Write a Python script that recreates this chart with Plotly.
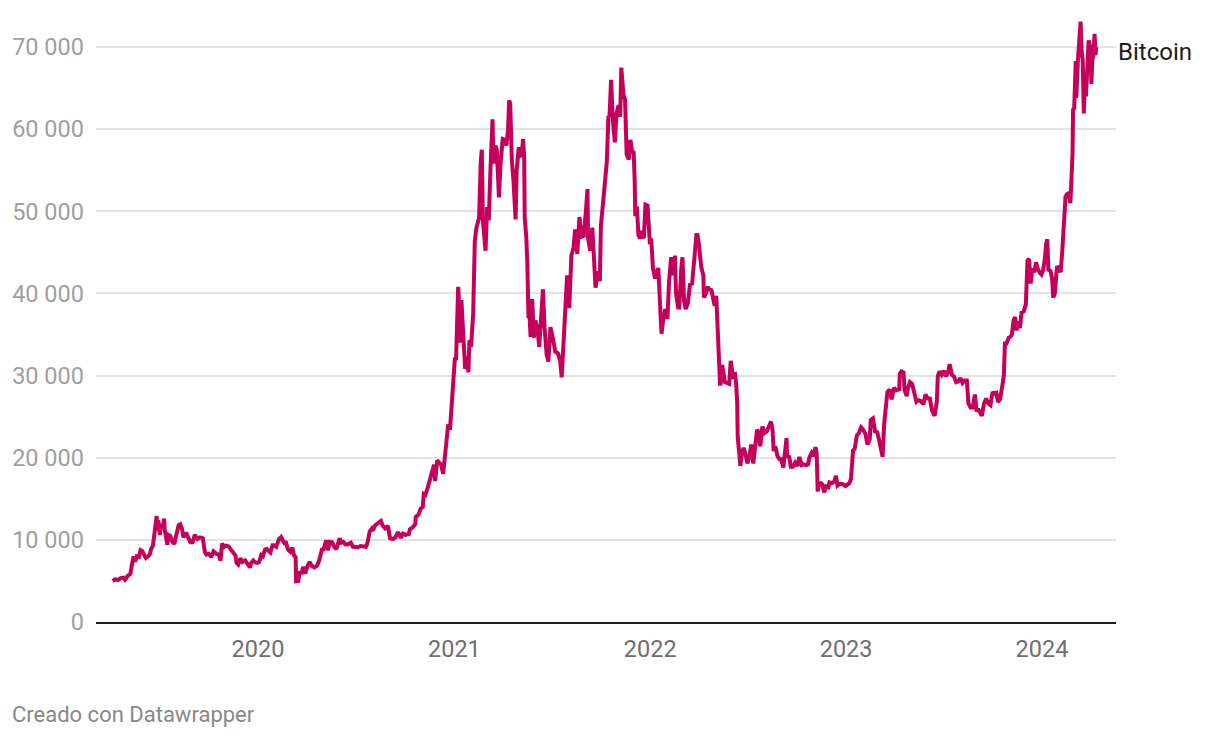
import plotly.graph_objects as go

# Bitcoin price (USD)
dates = [
 "2019-04-05","2019-04-10","2019-04-15","2019-04-20","2019-04-25","2019-04-28","2019-05-03","2019-05-08","2019-05-11","2019-05-14",
 "2019-05-17","2019-05-20","2019-05-24","2019-05-27","2019-05-30","2019-06-03","2019-06-06","2019-06-10","2019-06-13","2019-06-16",
 "2019-06-19","2019-06-22","2019-06-26","2019-06-27","2019-06-29","2019-07-02","2019-07-04","2019-07-07","2019-07-10","2019-07-11",
 "2019-07-14","2019-07-16","2019-07-18","2019-07-21","2019-07-25","2019-07-29","2019-08-01","2019-08-06","2019-08-09","2019-08-12",
 "2019-08-15","2019-08-20","2019-08-23","2019-08-28","2019-09-01","2019-09-05","2019-09-10","2019-09-15","2019-09-20","2019-09-24",
 "2019-09-27","2019-10-01","2019-10-06","2019-10-10","2019-10-15","2019-10-20","2019-10-23","2019-10-26","2019-10-30","2019-11-03",
 "2019-11-07","2019-11-12","2019-11-15","2019-11-20","2019-11-22","2019-11-25","2019-11-29","2019-12-03","2019-12-08","2019-12-12",
 "2019-12-17","2019-12-19","2019-12-23","2019-12-27","2019-12-31",
 "2020-01-03","2020-01-07","2020-01-10","2020-01-14","2020-01-17","2020-01-20","2020-01-24","2020-01-28","2020-01-31","2020-02-04",
 "2020-02-09","2020-02-13","2020-02-16","2020-02-19","2020-02-22","2020-02-26","2020-03-01","2020-03-05","2020-03-08","2020-03-11",
 "2020-03-12","2020-03-16","2020-03-19","2020-03-22","2020-03-25","2020-03-29","2020-04-02","2020-04-06","2020-04-10","2020-04-15",
 "2020-04-20","2020-04-24","2020-04-29","2020-05-02","2020-05-07","2020-05-10","2020-05-14","2020-05-18","2020-05-22","2020-05-26",
 "2020-06-01","2020-06-04","2020-06-08","2020-06-12","2020-06-16","2020-06-22","2020-06-26","2020-06-30","2020-07-05","2020-07-10",
 "2020-07-15","2020-07-20","2020-07-23","2020-07-27","2020-07-31","2020-08-02","2020-08-06","2020-08-10","2020-08-17","2020-08-20",
 "2020-08-25","2020-08-30","2020-09-03","2020-09-08","2020-09-13","2020-09-18","2020-09-23","2020-09-27","2020-10-02","2020-10-08",
 "2020-10-10","2020-10-15","2020-10-20","2020-10-21","2020-10-26","2020-10-30","2020-11-03","2020-11-05","2020-11-08","2020-11-12",
 "2020-11-17","2020-11-21","2020-11-24","2020-11-26","2020-11-30","2020-12-03","2020-12-07","2020-12-11","2020-12-16","2020-12-20",
 "2020-12-24","2020-12-27","2020-12-31",
 "2021-01-02","2021-01-04","2021-01-06","2021-01-08","2021-01-10","2021-01-11","2021-01-14","2021-01-17","2021-01-21","2021-01-24",
 "2021-01-27","2021-01-29","2021-02-01","2021-02-05","2021-02-08","2021-02-11","2021-02-14","2021-02-16","2021-02-19","2021-02-21",
 "2021-02-23","2021-02-26","2021-02-28","2021-03-03","2021-03-06","2021-03-09","2021-03-13","2021-03-15","2021-03-18","2021-03-21",
 "2021-03-25","2021-03-28","2021-04-01","2021-04-05","2021-04-08","2021-04-11","2021-04-13","2021-04-15","2021-04-18","2021-04-21",
 "2021-04-25","2021-04-27","2021-05-01","2021-05-03","2021-05-07","2021-05-09","2021-05-11","2021-05-12","2021-05-15","2021-05-17",
 "2021-05-19","2021-05-21","2021-05-23","2021-05-26","2021-05-29","2021-06-01","2021-06-05","2021-06-08","2021-06-11","2021-06-15",
 "2021-06-18","2021-06-22","2021-06-25","2021-06-29","2021-07-03","2021-07-08","2021-07-13","2021-07-17","2021-07-20","2021-07-23",
 "2021-07-26","2021-07-30","2021-08-03","2021-08-07","2021-08-11","2021-08-14","2021-08-18","2021-08-22","2021-08-26","2021-08-30",
 "2021-09-03","2021-09-06","2021-09-07","2021-09-11","2021-09-15","2021-09-20","2021-09-21","2021-09-25","2021-09-29","2021-10-01",
 "2021-10-05","2021-10-08","2021-10-12","2021-10-15","2021-10-17","2021-10-20","2021-10-23","2021-10-27","2021-10-30","2021-11-03",
 "2021-11-06","2021-11-08","2021-11-10","2021-11-12","2021-11-15","2021-11-18","2021-11-22","2021-11-25","2021-11-28","2021-12-01",
 "2021-12-03","2021-12-04","2021-12-07","2021-12-10","2021-12-13","2021-12-16","2021-12-20","2021-12-23","2021-12-27","2021-12-31",
 "2022-01-03","2022-01-06","2022-01-10","2022-01-13","2022-01-16","2022-01-21","2022-01-22","2022-01-25","2022-01-29","2022-02-02",
 "2022-02-05","2022-02-09","2022-02-10","2022-02-13","2022-02-16","2022-02-18","2022-02-22","2022-02-24","2022-02-28","2022-03-02",
 "2022-03-05","2022-03-08","2022-03-12","2022-03-16","2022-03-20","2022-03-24","2022-03-28","2022-03-30","2022-04-02","2022-04-06",
 "2022-04-10","2022-04-11","2022-04-14","2022-04-18","2022-04-21","2022-04-25","2022-04-29","2022-05-01","2022-05-04","2022-05-06",
 "2022-05-09","2022-05-11","2022-05-12","2022-05-15","2022-05-20","2022-05-24","2022-05-28","2022-05-31","2022-06-04","2022-06-08",
 "2022-06-10","2022-06-12","2022-06-13","2022-06-16","2022-06-18","2022-06-21","2022-06-24","2022-06-28","2022-07-01","2022-07-05",
 "2022-07-08","2022-07-12","2022-07-15","2022-07-19","2022-07-21","2022-07-25","2022-07-29","2022-08-02","2022-08-06","2022-08-10",
 "2022-08-14","2022-08-17","2022-08-19","2022-08-22","2022-08-26","2022-08-30","2022-09-02","2022-09-06","2022-09-09","2022-09-12",
 "2022-09-13","2022-09-17","2022-09-20","2022-09-24","2022-09-28","2022-10-02","2022-10-06","2022-10-10","2022-10-14","2022-10-19",
 "2022-10-22","2022-10-25","2022-10-29","2022-11-02","2022-11-05","2022-11-07","2022-11-08","2022-11-09","2022-11-12","2022-11-15",
 "2022-11-18","2022-11-21","2022-11-25","2022-11-29","2022-12-01","2022-12-05","2022-12-10","2022-12-13","2022-12-16","2022-12-20",
 "2022-12-25","2022-12-29","2022-12-31",
 "2023-01-03","2023-01-07","2023-01-10","2023-01-12","2023-01-14","2023-01-17","2023-01-21","2023-01-25","2023-01-29","2023-02-02",
 "2023-02-06","2023-02-10","2023-02-14","2023-02-16","2023-02-20","2023-02-24","2023-02-28","2023-03-03","2023-03-09","2023-03-10",
 "2023-03-13","2023-03-17","2023-03-19","2023-03-23","2023-03-27","2023-03-31","2023-04-04","2023-04-10","2023-04-11","2023-04-14",
 "2023-04-18","2023-04-20","2023-04-24","2023-04-26","2023-04-30","2023-05-04","2023-05-08","2023-05-12","2023-05-16","2023-05-20",
 "2023-05-25","2023-05-29","2023-06-02","2023-06-06","2023-06-10","2023-06-15","2023-06-19","2023-06-21","2023-06-24","2023-06-28",
 "2023-07-02","2023-07-06","2023-07-10","2023-07-13","2023-07-17","2023-07-21","2023-07-25","2023-07-29","2023-08-02","2023-08-06",
 "2023-08-10","2023-08-14","2023-08-17","2023-08-21","2023-08-25","2023-08-29","2023-09-01","2023-09-05","2023-09-11","2023-09-15",
 "2023-09-19","2023-09-23","2023-09-27","2023-10-01","2023-10-04","2023-10-08","2023-10-11","2023-10-15","2023-10-19","2023-10-22",
 "2023-10-24","2023-10-27","2023-10-31","2023-11-03","2023-11-06","2023-11-09","2023-11-12","2023-11-15","2023-11-17","2023-11-21",
 "2023-11-24","2023-11-28","2023-12-02","2023-12-04","2023-12-05","2023-12-08","2023-12-11","2023-12-14","2023-12-18","2023-12-21",
 "2023-12-24","2023-12-28","2023-12-31",
 "2024-01-03","2024-01-06","2024-01-09","2024-01-11","2024-01-13","2024-01-17","2024-01-20","2024-01-22","2024-01-25","2024-01-29",
 "2024-02-01","2024-02-05","2024-02-08","2024-02-10","2024-02-12","2024-02-14","2024-02-17","2024-02-20","2024-02-23","2024-02-26",
 "2024-02-27","2024-02-28","2024-03-01","2024-03-04","2024-03-05","2024-03-08","2024-03-11","2024-03-13","2024-03-15","2024-03-17",
 "2024-03-19","2024-03-21","2024-03-23","2024-03-25","2024-03-26","2024-03-28","2024-04-01","2024-04-02","2024-04-04","2024-04-06",
 "2024-04-08","2024-04-10","2024-04-11",
]

prices = [
 5000,5200,5100,5350,5400,5150,5600,5850,7000,8000,
 7350,8000,7900,8750,8650,8100,7800,8000,8200,8950,
 9250,10800,12900,11100,12400,10600,11900,11400,12600,11300,
 10200,9400,10600,10500,9800,9500,10400,11800,11900,11400,
 10300,10900,10400,9700,9700,10600,10100,10300,10200,8500,
 8200,8300,7900,8600,8300,8200,7450,9550,9150,9300,
 9200,8800,8500,8100,7200,7000,7750,7300,7500,7200,
 6650,7150,7500,7250,7200,
 7300,8150,8000,8800,8900,8650,8450,9350,9350,9150,
 10100,10350,9900,9600,9650,8800,8550,9050,8100,7900,
 4970,5000,6200,5850,6700,5900,6800,7300,6850,6650,
 6850,7500,8800,8850,9950,8750,9750,9700,9150,8850,
 10200,9650,9750,9450,9450,9650,9150,9150,9100,9250,
 9200,9150,9600,11000,11350,11100,11750,11900,12300,11750,
 11400,11700,10200,10100,10300,10950,10250,10750,10600,10700,
 11300,11500,11900,12800,13050,13800,14000,15600,15500,16300,
 17700,18700,19150,17150,19700,19400,19200,18050,21300,23800,
 23700,26300,29000,
 32200,31900,36800,40800,38400,34000,39200,35800,30800,32300,
 30400,34300,33500,37600,46400,48000,48700,49200,55900,57500,
 48900,47000,45200,50500,48900,54800,61200,55800,58000,57500,
 51700,55900,58800,58700,58000,60000,63500,63100,56200,53800,
 49000,55000,57800,56600,57300,58800,56700,49200,46800,43500,
 37000,37300,34700,39300,34600,36700,35500,33500,37300,40500,
 35800,32500,31700,35900,34700,32900,32700,31800,29800,33600,
 37300,42200,38200,44600,45600,47800,44800,49300,46900,47000,
 50000,52700,46800,45200,48000,43000,40700,42700,41500,48200,
 51500,53800,56000,61600,61500,66000,61300,58400,61900,62900,
 61500,67500,64900,64200,63600,56900,56300,58700,57300,57200,
 53700,49400,50600,47100,46700,47600,46700,50800,50700,46300,
 46400,43100,41800,42600,43100,36300,35100,36700,38100,36900,
 41400,44400,43600,42200,44600,40000,38300,38300,43200,44400,
 39100,38100,38800,41100,41200,44000,47100,47100,45800,43200,
 42200,39500,39900,40800,40500,40400,38600,38500,39700,36000,
 30100,29000,29000,31300,29200,29100,29000,31800,29900,30100,
 29100,26700,22500,20400,19000,20700,21200,20300,19300,20200,
 21600,19300,20800,23400,23200,21400,23800,23000,23200,23900,
 24400,23300,20800,21400,20200,19800,19800,18800,21400,22400,
 20200,20100,18900,18900,19400,19000,20100,19100,19200,19100,
 19200,20100,20600,20200,21300,20600,18500,15900,16800,16900,
 16700,15800,16500,16400,17000,16900,17100,17800,16600,16800,
 16800,16600,16550,
 16700,16900,17400,18800,20900,21100,22700,23000,23700,23400,
 22900,21600,22200,24600,24800,23200,23100,22300,20300,20100,
 24200,27400,28000,28300,27100,28500,28200,28300,30200,30500,
 30400,28200,27500,28400,29200,29000,27700,26800,27000,26900,
 26500,27700,27200,27200,25800,25100,26800,30000,30500,30100,
 30600,29900,30400,31400,30100,29900,29200,29300,29700,29100,
 29400,29400,26600,26100,26100,27700,25800,25800,25100,26600,
 27200,26600,26400,28000,27800,27900,26800,27100,28700,30000,
 33900,33900,34600,34700,35000,36700,37100,35500,36600,35800,
 37700,37800,38700,41900,44000,44200,41200,43000,42600,43800,
 43000,42500,42300,
 42800,44000,46100,46600,42900,42700,41800,39500,40000,43300,
 43100,42600,45300,47100,50000,51800,52100,52200,51000,54500,
 57000,62500,62400,68300,63800,68300,72100,73100,69500,68400,
 61900,65500,64000,67200,70000,70800,69700,65500,68500,69000,
 71600,69000,70000,
]

y_tickvals = [0, 10000, 20000, 30000, 40000, 50000, 60000, 70000]
y_ticktext = ["0", "10 000", "20 000", "30 000", "40 000", "50 000", "60 000", "70 000"]
x_tickvals = ["2020-01-01", "2021-01-01", "2022-01-01", "2023-01-01", "2024-01-01"]
x_ticktext = ["2020", "2021", "2022", "2023", "2024"]
series_name = "Bitcoin"
credit = "Creado con Datawrapper"

LINE = "#c4005a"
FONT = "Roboto"

fig = go.Figure()
fig.add_trace(go.Scatter(
    x=dates, y=prices, mode="lines", name=series_name,
    line=dict(color=LINE, width=4), hoverinfo="x+y", showlegend=False,
))

fig.update_layout(
    width=1220, height=738,
    margin=dict(l=88, r=112, t=0, b=124),
    paper_bgcolor="white", plot_bgcolor="white",
    font=dict(family=FONT, size=23.5, color="#6e6e6e"),
    xaxis=dict(
        type="date",
        range=["2019-03-05", "2024-05-18"],
        tickvals=x_tickvals, ticktext=x_ticktext,
        showgrid=False, zeroline=False,
        showline=True, linecolor="#1d1d1d", linewidth=2,
        ticks="", ticklabelstandoff=5,
        tickfont=dict(family=FONT, size=23.5, color="#6e6e6e"),
    ),
    yaxis=dict(
        range=[0, 74748],
        tickvals=y_tickvals, ticktext=y_ticktext,
        showgrid=True, gridcolor="#e3e3e3", gridwidth=1.5,
        zeroline=False, showline=False, ticks="",
        ticklabelstandoff=11,
        tickfont=dict(family=FONT, size=23.5, color="#a0a0a0"),
    ),
    annotations=[
        dict(text=series_name, xref="paper", yref="y", x=1, y=69400,
             xanchor="left", yanchor="middle", xshift=0, showarrow=False,
             font=dict(family=FONT, size=24, color="#1d1d1d")),
        dict(text=credit, xref="paper", yref="paper", x=0, y=0,
             xanchor="left", yanchor="middle", xshift=-86, yshift=-92,
             showarrow=False, font=dict(family=FONT, size=22, color="#888888")),
    ],
)

fig.write_html("out.html")
